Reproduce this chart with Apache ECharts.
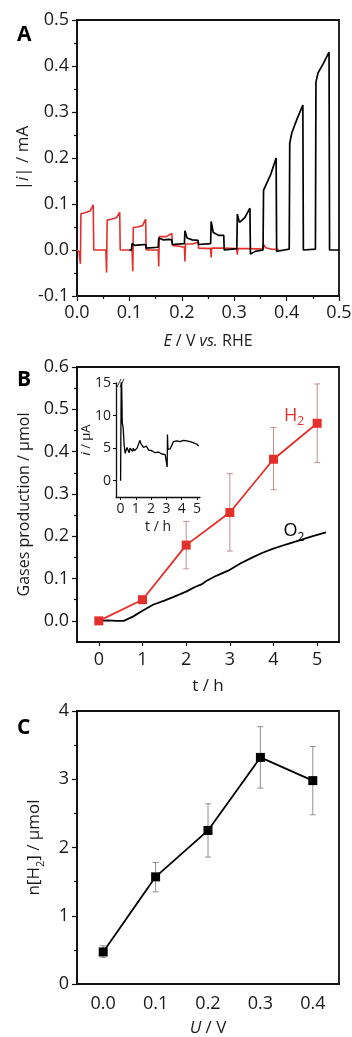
<!DOCTYPE html>
<html>
<head>
<meta charset="utf-8">
<script src="https://cdn.jsdelivr.net/npm/echarts@6/dist/echarts.min.js"></script>
<style>
html,body{margin:0;padding:0;background:#fff;}
#chart{width:352px;height:1037px;}
</style>
</head>
<body>
<div id="chart"></div>
<script>
// ---------- Panel A: chopped-light current traces [E (V vs RHE), |i| (mA)] ----------
const redTrace = [
  [0.000,0.000],[0.004,-0.004],[0.0065,-0.030],[0.0075,0.079],[0.015,0.081],[0.025,0.085],[0.031,0.098],[0.032,0.000],
  [0.055,0.000],[0.0565,-0.049],[0.0575,0.065],[0.065,0.067],[0.075,0.070],[0.0815,0.082],[0.0825,0.000],
  [0.105,0.000],[0.1065,-0.046],[0.1075,0.049],[0.115,0.050],[0.125,0.053],[0.131,0.067],[0.132,0.000],
  [0.155,0.000],[0.156,-0.036],[0.157,0.029],[0.170,0.029],[0.181,0.036],[0.182,0.010],[0.195,0.008],
  [0.205,0.006],[0.206,-0.025],[0.207,0.013],[0.220,0.013],[0.231,0.017],[0.232,0.004],
  [0.255,0.003],[0.256,-0.016],[0.257,0.004],[0.280,0.004],[0.281,0.003],
  [0.305,0.003],[0.306,-0.010],[0.307,0.003],[0.330,0.003],
  [0.354,0.002],[0.356,0.012],[0.360,0.005],[0.370,0.002],[0.385,0.001]
];
const blackTrace = [
  [0.100,0.000],[0.104,0.000],[0.105,0.014],[0.110,0.010],[0.120,0.011],[0.131,0.012],[0.132,0.004],
  [0.155,0.006],[0.156,0.026],[0.165,0.022],[0.175,0.023],[0.181,0.022],[0.182,0.012],
  [0.205,0.014],[0.206,0.042],[0.210,0.026],[0.220,0.022],[0.231,0.021],[0.232,0.012],
  [0.255,0.014],[0.256,0.062],[0.260,0.038],[0.270,0.032],[0.280,0.032],[0.281,0.000],
  [0.305,0.003],[0.306,0.078],[0.310,0.060],[0.320,0.070],[0.330,0.091],[0.331,-0.009],[0.340,-0.003],
  [0.355,0.000],[0.356,0.130],[0.360,0.140],[0.370,0.165],[0.380,0.200],[0.381,-0.003],[0.395,0.000],
  [0.405,0.002],[0.406,0.232],[0.410,0.255],[0.420,0.285],[0.431,0.315],[0.432,0.000],
  [0.455,0.002],[0.456,0.365],[0.460,0.385],[0.470,0.405],[0.481,0.430],[0.482,0.000],[0.500,0.000]
];

// ---------- Panel B: gas production ----------
const bTime   = [0,1,2,3,4,5];
const h2Mean  = [0.000,0.050,0.179,0.256,0.382,0.467];
const h2Low   = [0.000,0.050,0.123,0.165,0.310,0.374];
const h2High  = [0.000,0.050,0.235,0.348,0.457,0.560];
const o2Curve = [
  [0,0],[0.2,0.001],[0.4,0],[0.57,0],[0.78,0.010],[1.0,0.024],[1.24,0.038],[1.5,0.048],[1.7,0.056],
  [2.0,0.069],[2.2,0.080],[2.35,0.086],[2.46,0.094],[2.7,0.107],[2.99,0.120],[3.25,0.136],[3.52,0.150],
  [3.75,0.161],[3.98,0.170],[4.3,0.181],[4.59,0.190],[4.9,0.200],[5.2,0.209]
];
const bXTicks = [0,1,2,3,4,5];
const bYTicks = [0.0,0.1,0.2,0.3,0.4,0.5,0.6];
const bYMinor = [0.05,0.15,0.25,0.35,0.45,0.55];

// ---------- Panel B inset: photocurrent [t (h), i (µA)] ----------
const insetTrace = [
  [0.00,0.0],[0.05,0.0],[0.05,18],[0.11,8.9],[0.17,8.1],[0.24,5.3],[0.30,4.2],[0.35,4.0],[0.42,5.1],[0.50,5.2],
  [0.56,4.3],[0.62,5.0],[0.66,4.8],[0.72,5.3],[0.78,4.5],[0.83,5.0],[0.90,4.6],[1.00,4.5],[1.08,5.0],
  [1.16,5.3],[1.27,6.2],[1.35,5.6],[1.42,5.6],[1.50,5.1],[1.60,5.0],[1.68,5.3],[1.75,5.2],[1.85,4.7],
  [1.93,4.6],[2.05,4.6],[2.15,4.5],[2.25,4.3],[2.37,4.2],[2.48,4.4],[2.59,4.3],[2.70,4.1],[2.80,4.1],
  [2.92,4.0],[3.02,4.0],[3.05,2.1],[3.07,7.1],[3.10,4.8],[3.13,4.8],[3.25,4.9],[3.35,4.9],[3.46,6.0],
  [3.57,6.0],[3.68,6.1],[3.80,5.9],[3.90,6.0],[4.00,6.1],[4.12,6.2],[4.23,6.5],[4.34,6.1],[4.45,6.0],
  [4.56,6.0],[4.67,5.9],[4.78,5.8],[4.90,5.6],[5.00,5.6],[5.11,5.3]
];
const insetXTicks = [0,1,2,3,4,5];
const insetYTicks = [0,5,10,15];

// ---------- Panel C: H2 amount vs bias ----------
const cU     = [0.0,0.1,0.2,0.3,0.4];
const nH2    = [0.47,1.57,2.25,3.32,2.98];
const nLow   = [0.39,1.35,1.86,2.87,2.48];
const nHigh  = [0.56,1.78,2.64,3.77,3.48];
const cXTicks = [0.0,0.1,0.2,0.3,0.4];

// ---------- styles ----------
const FONT = 'Open Sans';
const TXT = '#1a1a1a';
const RED = '#e3302a';
const AX = '#111';
const TICK = 18;
const tickLbl = (sz) => ({color:TXT, fontFamily:FONT, fontSize:sz});
const nameRich = (sz) => ({
  i:{fontStyle:'italic', fontFamily:FONT, fontSize:sz, color:TXT, lineHeight:sz+6},
  n:{fontFamily:FONT, fontSize:sz, color:TXT, lineHeight:sz+6},
  s:{fontFamily:FONT, fontSize:Math.round(sz*0.65), color:TXT, lineHeight:Math.round(sz*0.65), verticalAlign:'bottom'}
});

const chart = echarts.init(document.getElementById('chart'), null, {renderer:'canvas'});

function errBars(xIdx, yIdx, xs, lo, hi, color, cap){
  return {
    type:'custom', xAxisIndex:xIdx, yAxisIndex:yIdx, z:1, silent:true,
    encode:{x:0, y:[1,2]},
    data: xs.map((x,k)=>[x, lo[k], hi[k]]),
    renderItem:(params, api)=>{
      const x = api.value(0), l = api.value(1), h = api.value(2);
      if (h - l <= 0) return null;
      const pl = api.coord([x,l]), ph = api.coord([x,h]);
      const st = {stroke:color, lineWidth:1};
      return {type:'group', children:[
        {type:'line', shape:{x1:pl[0],y1:pl[1],x2:ph[0],y2:ph[1]}, style:st},
        {type:'line', shape:{x1:pl[0]-cap,y1:pl[1],x2:pl[0]+cap,y2:pl[1]}, style:st},
        {type:'line', shape:{x1:ph[0]-cap,y1:ph[1],x2:ph[0]+cap,y2:ph[1]}, style:st}
      ]};
    }
  };
}

const frame = {show:true, borderColor:AX, borderWidth:1.8, backgroundColor:'transparent', outerBoundsMode:'none', containLabel:false};
const axLine = {show:true, onZero:false, lineStyle:{color:AX, width:1.8}};

const option = {
  animation:false,
  backgroundColor:'#fff',
  title:[
    {text:'A', left:12, top:20, textStyle:{fontFamily:FONT, fontWeight:'bold', fontSize:21, color:'#000'}},
    {text:'B', left:12, top:365, textStyle:{fontFamily:FONT, fontWeight:'bold', fontSize:21, color:'#000'}},
    {text:'C', left:12, top:713, textStyle:{fontFamily:FONT, fontWeight:'bold', fontSize:21, color:'#000'}}
  ],
  grid:[
    Object.assign({left:77, top:20, width:262, height:276}, frame),
    Object.assign({left:77, top:367, width:262, height:275}, frame),
    {left:116, top:383, width:84, height:114, show:false, outerBoundsMode:'none', containLabel:false},
    Object.assign({left:77, top:711, width:262, height:273}, frame)
  ],
  xAxis:[
    {gridIndex:0, type:'value', min:0, max:0.5, interval:0.1, position:'bottom',
      axisLine:axLine, axisTick:{show:true, length:5, lineStyle:{color:AX, width:1.2}},
      minorTick:{show:true, splitNumber:2, length:3, lineStyle:{color:AX, width:1.2}},
      splitLine:{show:false},
      axisLabel:Object.assign({margin:8, formatter:v=>v.toFixed(1)}, tickLbl(TICK)),
      name:'{i|E}{n| / V }{i|vs.}{n| RHE}', nameLocation:'middle', nameGap:34, nameMoveOverlap:false,
      nameTextStyle:{rich:nameRich(16)}},
    {gridIndex:1, type:'value', min:-0.5, max:5.5, position:'bottom',
      axisLine:axLine, axisTick:{show:true, length:4, customValues:bXTicks, lineStyle:{color:AX, width:1.2}},
      splitLine:{show:false},
      axisLabel:Object.assign({margin:9, customValues:bXTicks, formatter:v=>String(v)}, tickLbl(TICK)),
      name:'{n|t / h}', nameLocation:'middle', nameGap:33, nameMoveOverlap:false, nameTextStyle:{rich:nameRich(17)}},
    {gridIndex:2, type:'value', min:-0.3, max:5.2, position:'bottom',
      axisLine:{show:true, onZero:false, lineStyle:{color:AX, width:1.3}},
      axisTick:{show:true, length:3, customValues:insetXTicks, lineStyle:{color:AX, width:1}},
      splitLine:{show:false},
      axisLabel:Object.assign({margin:5, customValues:insetXTicks, formatter:v=>String(v)}, tickLbl(14)),
      name:'{n|t / h}', nameLocation:'middle', nameGap:20, nameMoveOverlap:false, nameTextStyle:{rich:nameRich(14)}},
    {gridIndex:3, type:'value', min:-0.05, max:0.45, position:'bottom',
      axisLine:axLine, axisTick:{show:false},
      splitLine:{show:false},
      axisLabel:Object.assign({margin:11, customValues:cXTicks, formatter:v=>v.toFixed(1)}, tickLbl(TICK)),
      name:'{i|U}{n| / V}', nameLocation:'middle', nameGap:33, nameMoveOverlap:false, nameTextStyle:{rich:nameRich(17)}}
  ],
  yAxis:[
    {gridIndex:0, type:'value', min:-0.1, max:0.5, interval:0.1, position:'left',
      axisLine:axLine, axisTick:{show:true, length:5, lineStyle:{color:AX, width:1.2}},
      minorTick:{show:true, splitNumber:2, length:3, lineStyle:{color:AX, width:1.2}},
      splitLine:{show:false},
      axisLabel:Object.assign({margin:8, formatter:v=>v.toFixed(1)}, tickLbl(TICK)),
      name:'{n||}{i|i}{n|| / mA}', nameLocation:'middle', nameGap:42, nameRotate:90, nameMoveOverlap:false,
      nameTextStyle:{rich:nameRich(17)}},
    {gridIndex:1, type:'value', min:-0.05, max:0.6, position:'left',
      axisLine:axLine, axisTick:{show:true, length:5, customValues:bYTicks, lineStyle:{color:AX, width:1.2}},
      splitLine:{show:false},
      axisLabel:Object.assign({margin:8, customValues:bYTicks, formatter:v=>v.toFixed(1)}, tickLbl(TICK)),
      name:'{n|Gases production / μmol}', nameLocation:'middle', nameGap:42, nameRotate:90, nameMoveOverlap:false,
      nameTextStyle:{rich:nameRich(16)}},
    {gridIndex:1, type:'value', min:-0.05, max:0.6, position:'left', offset:0,
      axisLine:{show:false, onZero:false}, axisTick:{show:true, length:3, customValues:bYMinor, lineStyle:{color:AX, width:1.2}},
      splitLine:{show:false}, axisLabel:{show:false}},
    {gridIndex:2, type:'value', min:-2.5, max:15, position:'left',
      axisLine:{show:true, onZero:false, lineStyle:{color:AX, width:1.3}},
      axisTick:{show:true, length:3, customValues:insetYTicks, lineStyle:{color:AX, width:1}},
      splitLine:{show:false},
      axisLabel:Object.assign({margin:5, customValues:insetYTicks, formatter:v=>String(v)}, tickLbl(14)),
      name:'{i|i}{n| / μA}', nameLocation:'middle', nameGap:20, nameRotate:90, nameMoveOverlap:false,
      nameTextStyle:{rich:nameRich(13)}},
    {gridIndex:3, type:'value', min:0, max:4, interval:1, position:'left',
      axisLine:axLine, axisTick:{show:true, length:5, lineStyle:{color:AX, width:1.2}},
      minorTick:{show:true, splitNumber:2, length:3, lineStyle:{color:AX, width:1.2}},
      splitLine:{show:false},
      axisLabel:Object.assign({margin:8, formatter:v=>String(v)}, tickLbl(TICK)),
      name:'{n|n[H}{s|2}{n|] / μmol}', nameLocation:'middle', nameGap:31, nameRotate:90, nameMoveOverlap:false,
      nameTextStyle:{rich:nameRich(17)}}
  ],
  series:[
    {type:'line', xAxisIndex:0, yAxisIndex:0, data:redTrace, showSymbol:false, symbol:'none',
      lineStyle:{color:RED, width:1.6}, z:2},
    {type:'line', xAxisIndex:0, yAxisIndex:0, data:blackTrace, showSymbol:false, symbol:'none',
      lineStyle:{color:'#000', width:1.7}, z:3},

    errBars(1, 1, bTime, h2Low, h2High, '#c0908e', 3),
    {type:'line', xAxisIndex:1, yAxisIndex:1, data:o2Curve, showSymbol:false, symbol:'none',
      lineStyle:{color:'#000', width:1.8}, z:2,
      markPoint:{symbol:'rect', symbolSize:0, silent:true,
        data:[{coord:[4.47,0.212]}],
        label:{show:true, formatter:'{n|O}{s|2}', rich:{
          n:{fontFamily:FONT, fontSize:18, color:'#000', lineHeight:24},
          s:{fontFamily:FONT, fontSize:12, color:'#000', lineHeight:12, verticalAlign:'bottom'}}}}},
    {type:'line', xAxisIndex:1, yAxisIndex:1, data:bTime.map((t,k)=>[t,h2Mean[k]]),
      symbol:'rect', symbolSize:[9,9], showSymbol:true,
      itemStyle:{color:RED}, lineStyle:{color:RED, width:1.8}, z:3,
      markPoint:{symbol:'rect', symbolSize:0, silent:true,
        data:[{coord:[4.47,0.485]}],
        label:{show:true, formatter:'{n|H}{s|2}', rich:{
          n:{fontFamily:FONT, fontSize:18, color:RED, lineHeight:24},
          s:{fontFamily:FONT, fontSize:12, color:RED, lineHeight:12, verticalAlign:'bottom'}}}}},

    {type:'line', xAxisIndex:2, yAxisIndex:3, data:insetTrace, showSymbol:false, symbol:'none',
      lineStyle:{color:'#000', width:1.3}, clip:true, z:3},

    errBars(3, 4, cU, nLow, nHigh, '#909090', 3),
    {type:'line', xAxisIndex:3, yAxisIndex:4, data:cU.map((u,k)=>[u,nH2[k]]),
      symbol:'rect', symbolSize:[9,9], showSymbol:true,
      itemStyle:{color:'#000'}, lineStyle:{color:'#000', width:1.8}, z:3}
  ]
};
chart.setOption(option);

// axis-break mark "//" at the top of the inset current axis
const yAxTop = chart.convertToPixel({xAxisIndex:2, yAxisIndex:3}, [-0.3, 15]);
chart.setOption({graphic:[
  {type:'line', shape:{x1:yAxTop[0]+1, y1:yAxTop[1]+4, x2:yAxTop[0]+5, y2:yAxTop[1]-4}, style:{stroke:'#333', lineWidth:1}},
  {type:'line', shape:{x1:yAxTop[0]+4, y1:yAxTop[1]+4, x2:yAxTop[0]+8, y2:yAxTop[1]-4}, style:{stroke:'#333', lineWidth:1}}
]});
</script>
</body>
</html>
